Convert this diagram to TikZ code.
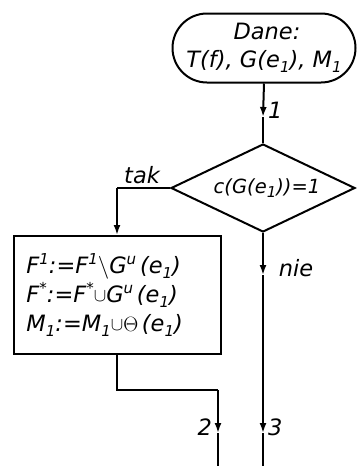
\documentclass[tikz,border=0pt]{standalone}
\usepackage{fontspec}
\usepackage{graphicx}
\setmainfont{DejaVu Sans}
\usetikzlibrary{arrows.meta,shapes.geometric,shapes.misc}
\newcommand\lo[1]{\raisebox{-0.45ex}{\fontsize{15}{15}\selectfont #1}}
\newcommand\hi[1]{\raisebox{0.75ex}{\fontsize{15}{15}\selectfont #1}}
\newcommand\un{\raisebox{0.05ex}{\scalebox{0.9}{$\cup$}}}
\newcommand\sm{\scalebox{1.1}{$\setminus$}}
\begin{document}
\begin{tikzpicture}[x=1pt,y=-1pt,line width=2pt,
  txt/.style={font=\fontsize{22.5}{29}\selectfont\itshape},
  term/.style={txt,draw,rounded rectangle,minimum width=183pt,minimum height=69pt,inner sep=0pt,align=center},
  dec/.style={draw,diamond,aspect=2.1,minimum width=184pt,minimum height=88pt,inner sep=0pt,font=\fontsize{19.5}{26}\selectfont\itshape},
  procbox/.style={txt,draw,rectangle,minimum width=207pt,minimum height=118pt,inner sep=0pt,text width=181pt,align=left},
  lbl/.style={txt,inner sep=1pt},
  tip/.style={-{Latex[length=10pt,width=7pt]}}]
\useasboundingbox (0,0) rectangle (357,466);
\node[term] (t) at (264,48) {\hspace*{6pt}Dane:\\[-1pt]T(f), G(e\lo{1}), M\lo{1}};
\node[dec] (d) at (263,188) {\hspace*{8pt}c(G(e\lo{1}))=1};
\node[procbox] (b) at (117,295) {F\hi{1}:=F\hi{1}\sm G\hi{u}\,(e\lo{1})\\F\hi{*}:=F\hi{*}\un G\hi{u}\,(e\lo{1})\\M\lo{1}:=M\lo{1}\un$\Theta$\,(e\lo{1})};
% connector 1
\coordinate (m1) at (263,117);
\draw[tip] (t.south) -- (m1);
\draw (m1) -- (d.north);
\node[lbl,anchor=west] (l1) at (266,110) {1};
% tak branch
\coordinate (c1) at (b.north |- d.west);
\draw (d.west) -- (c1);
\draw[tip] (c1) -- (b.north);
\node[lbl] (ltak) at (142,175) {tak};
% nie branch
\coordinate (m4) at (263,275);
\coordinate (m3) at (263,433);
\coordinate (e3) at (263,466);
\draw[tip] (d.south) -- (m4);
\draw[tip] (m4) -- (m3);
\draw (m3) -- (e3);
\node[lbl] (lnie) at (296,268) {nie};
\node[lbl,anchor=west] (l3) at (266,427) {3};
% box exit 2
\coordinate (c2) at (117,390);
\coordinate (c3) at (218,390);
\coordinate (m2) at (218,433);
\coordinate (e2) at (218,466);
\draw (b.south) -- (c2) -- (c3);
\draw[tip] (c3) -- (m2);
\draw (m2) -- (e2);
\node[lbl,anchor=east] (l2) at (214,427) {2};
\end{tikzpicture}
\end{document}
